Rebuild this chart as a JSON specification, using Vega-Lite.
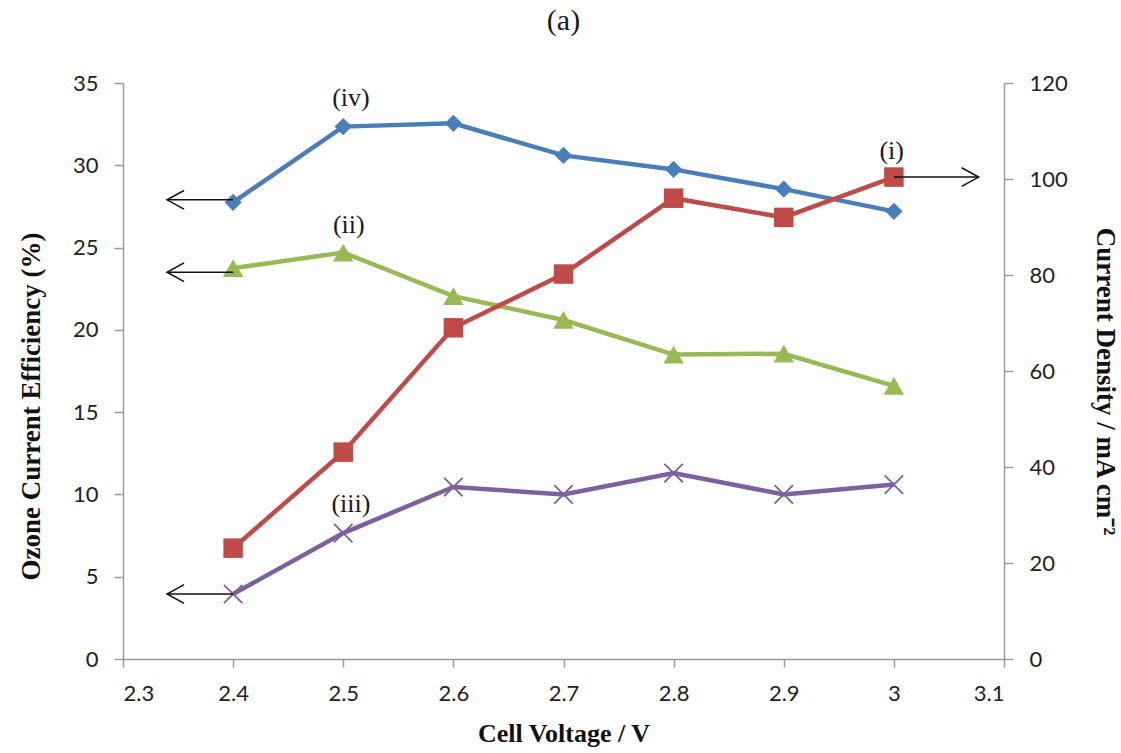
{
  "$schema": "https://vega.github.io/schema/vega-lite/v6.json",
  "width": 881,
  "height": 576,
  "autosize": "none",
  "padding": {"left": 123, "top": 83, "right": 117, "bottom": 94},
  "background": "white",
  "title": {
    "text": "(a)",
    "font": "Liberation Serif",
    "fontSize": 30,
    "fontWeight": "normal",
    "color": "#1a1a1a",
    "anchor": "middle",
    "baseline": "alphabetic",
    "offset": 12
  },
  "config": {
    "view": {"stroke": null},
    "axis": {
      "grid": false,
      "domainColor": "#9a9a9a",
      "domainWidth": 1.5,
      "tickColor": "#9a9a9a",
      "tickWidth": 1.5,
      "tickSize": 9,
      "labelFont": "Lato",
      "labelFontSize": 22,
      "labelColor": "#222222",
      "labelPadding": 16,
      "titleFont": "Liberation Serif",
      "titleFontSize": 27,
      "titleFontWeight": "bold",
      "titleColor": "#111111"
    }
  },
  "datasets": {
    "efficiency": [
      {"voltage": 2.4, "efficiency": 27.75, "series": "iv"},
      {"voltage": 2.5, "efficiency": 32.35, "series": "iv"},
      {"voltage": 2.6, "efficiency": 32.55, "series": "iv"},
      {"voltage": 2.7, "efficiency": 30.6, "series": "iv"},
      {"voltage": 2.8, "efficiency": 29.75, "series": "iv"},
      {"voltage": 2.9, "efficiency": 28.55, "series": "iv"},
      {"voltage": 3.0, "efficiency": 27.2, "series": "iv"},
      {"voltage": 2.4, "efficiency": 23.75, "series": "ii"},
      {"voltage": 2.5, "efficiency": 24.7, "series": "ii"},
      {"voltage": 2.6, "efficiency": 22.05, "series": "ii"},
      {"voltage": 2.7, "efficiency": 20.6, "series": "ii"},
      {"voltage": 2.8, "efficiency": 18.5, "series": "ii"},
      {"voltage": 2.9, "efficiency": 18.55, "series": "ii"},
      {"voltage": 3.0, "efficiency": 16.6, "series": "ii"},
      {"voltage": 2.4, "efficiency": 3.95, "series": "iii"},
      {"voltage": 2.5, "efficiency": 7.65, "series": "iii"},
      {"voltage": 2.6, "efficiency": 10.45, "series": "iii"},
      {"voltage": 2.7, "efficiency": 10.0, "series": "iii"},
      {"voltage": 2.8, "efficiency": 11.3, "series": "iii"},
      {"voltage": 2.9, "efficiency": 10.0, "series": "iii"},
      {"voltage": 3.0, "efficiency": 10.6, "series": "iii"}
    ],
    "density": [
      {"voltage": 2.4, "density": 23.1},
      {"voltage": 2.5, "density": 43.1},
      {"voltage": 2.6, "density": 69.0},
      {"voltage": 2.7, "density": 80.2},
      {"voltage": 2.8, "density": 96.0},
      {"voltage": 2.9, "density": 92.0},
      {"voltage": 3.0, "density": 100.4}
    ],
    "leftArrows": [
      {"voltage": 2.34, "tail": 2.4, "efficiency": 27.9},
      {"voltage": 2.34, "tail": 2.4, "efficiency": 23.5},
      {"voltage": 2.34, "tail": 2.4, "efficiency": 3.95}
    ],
    "rightArrows": [
      {"voltage": 3.077, "tail": 3.0, "density": 100.4}
    ],
    "leftLabels": [
      {"voltage": 2.507, "efficiency": 34.1, "text": "(iv)"},
      {"voltage": 2.505, "efficiency": 26.4, "text": "(ii)"},
      {"voltage": 2.507, "efficiency": 9.4, "text": "(iii)"}
    ],
    "rightLabels": [
      {"voltage": 2.998, "density": 105.8, "text": "(i)"}
    ]
  },
  "resolve": {"scale": {"y": "independent"}},
  "layer": [
    {
      "encoding": {
        "x": {
          "field": "voltage",
          "type": "quantitative",
          "scale": {"domain": [2.3, 3.1], "zero": false, "nice": false},
          "axis": {
            "title": "Cell Voltage / V",
            "titleFontSize": 26,
            "values": [2.3, 2.4, 2.5, 2.6, 2.7, 2.8, 2.9, 3.0, 3.1],
            "format": "~g",
            "labelPadding": 16,
            "tickSize": 8,
            "titlePadding": 16
          }
        },
        "y": {
          "field": "efficiency",
          "type": "quantitative",
          "scale": {"domain": [0, 35], "nice": false},
          "axis": {
            "orient": "left",
            "title": "Ozone Current Efficiency (%)",
            "values": [0, 5, 10, 15, 20, 25, 30, 35],
            "titlePadding": 27,
            "titleY": 323
          }
        }
      },
      "layer": [
        {
          "data": {"name": "efficiency"},
          "mark": {"type": "line", "strokeWidth": 4.5},
          "encoding": {
            "color": {
              "field": "series",
              "type": "nominal",
              "scale": {"domain": ["iv", "ii", "iii"], "range": ["#4a7ebb", "#98b954", "#7d60a0"]},
              "legend": null
            }
          }
        },
        {
          "data": {"name": "efficiency"},
          "transform": [{"filter": "datum.series !== 'iii'"}],
          "mark": {"type": "point", "filled": true, "opacity": 1},
          "encoding": {
            "color": {
              "field": "series",
              "type": "nominal",
              "scale": {"domain": ["iv", "ii", "iii"], "range": ["#4a7ebb", "#98b954", "#7d60a0"]},
              "legend": null
            },
            "shape": {
              "field": "series",
              "type": "nominal",
              "scale": {"domain": ["iv", "ii"], "range": ["diamond", "triangle-up"]},
              "legend": null
            },
            "size": {
              "field": "series",
              "type": "nominal",
              "scale": {"domain": ["iv", "ii"], "range": [300, 420]},
              "legend": null
            }
          }
        },
        {
          "data": {"name": "efficiency"},
          "transform": [{"filter": "datum.series === 'iii'"}],
          "mark": {
            "type": "point",
            "shape": "M-1,-1L1,1M-1,1L1,-1",
            "filled": false,
            "size": 340,
            "strokeWidth": 1.8,
            "color": "#7d60a0",
            "opacity": 1
          }
        },
        {
          "data": {"name": "leftArrows"},
          "mark": {"type": "rule", "color": "#111111", "strokeWidth": 1.5},
          "encoding": {"x2": {"field": "tail"}}
        },
        {
          "data": {"name": "leftArrows"},
          "mark": {
            "type": "point",
            "shape": "M1,-0.55L0,0L1,0.55",
            "filled": false,
            "size": 1156,
            "strokeWidth": 1.5,
            "color": "#111111",
            "opacity": 1
          }
        },
        {
          "data": {"name": "leftLabels"},
          "mark": {"type": "text", "font": "Liberation Serif", "fontSize": 26, "color": "#1a1a1a", "baseline": "middle"},
          "encoding": {"text": {"field": "text"}}
        }
      ]
    },
    {
      "encoding": {
        "x": {
          "field": "voltage",
          "type": "quantitative",
          "scale": {"domain": [2.3, 3.1], "zero": false, "nice": false}
        },
        "y": {
          "field": "density",
          "type": "quantitative",
          "scale": {"domain": [0, 120], "nice": false},
          "axis": {
            "orient": "right",
            "title": "Current Density / mA cm⁻²",
            "values": [0, 20, 40, 60, 80, 100, 120],
            "titlePadding": 23,
            "titleY": 298
          }
        }
      },
      "layer": [
        {
          "data": {"name": "density"},
          "mark": {"type": "line", "strokeWidth": 4.5, "color": "#be4b48"}
        },
        {
          "data": {"name": "density"},
          "mark": {"type": "point", "shape": "square", "filled": true, "size": 380, "color": "#be4b48", "opacity": 1}
        },
        {
          "data": {"name": "rightArrows"},
          "mark": {"type": "rule", "color": "#111111", "strokeWidth": 1.5},
          "encoding": {"x2": {"field": "tail"}}
        },
        {
          "data": {"name": "rightArrows"},
          "mark": {
            "type": "point",
            "shape": "M-1,-0.55L0,0L-1,0.55",
            "filled": false,
            "size": 1156,
            "strokeWidth": 1.5,
            "color": "#111111",
            "opacity": 1
          }
        },
        {
          "data": {"name": "rightLabels"},
          "mark": {"type": "text", "font": "Liberation Serif", "fontSize": 26, "color": "#1a1a1a", "baseline": "middle"},
          "encoding": {"text": {"field": "text"}}
        }
      ]
    }
  ]
}
